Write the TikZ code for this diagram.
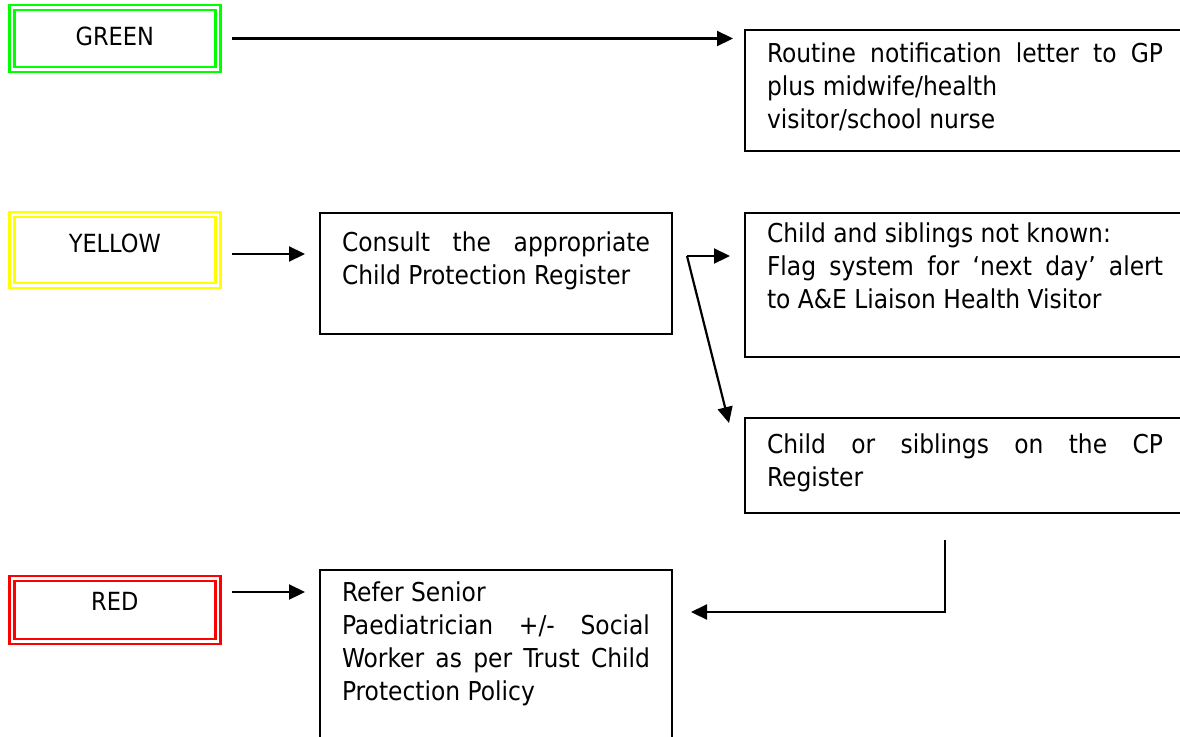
\documentclass[tikz,border=0pt]{standalone}
\usepackage{fontspec}
\setmainfont{DejaVu Sans Condensed}
\usetikzlibrary{arrows.meta}
\definecolor{flaggreen}{RGB}{0,255,0}
\definecolor{flagyellow}{RGB}{255,255,0}
\definecolor{flagred}{RGB}{255,0,0}
\begin{document}
\begin{tikzpicture}[x=1pt,y=-1pt,
  flag/.style={double=white, double distance=2.2pt, line width=2.6pt, inner sep=0pt, outer sep=0pt,
    minimum width=206pt, text depth=0pt, font=\fontsize{25}{30}\selectfont},
  infobox/.style={draw=black, line width=2.2pt, anchor=north west, inner xsep=22pt, inner ysep=0pt,
    outer sep=0pt, align=justify, font=\fontsize{26}{33}\selectfont},
  arr/.style={-{Triangle[length=16pt,width=15pt]}, line width=2.2pt},
]
\useasboundingbox (0,0) rectangle (1180,736);
\clip (0,0) rectangle (1180,736);

% colour flags
\node[flag, draw=flaggreen, minimum height=62pt, text height=14pt] (green) at (114.8,38.5) {GREEN};
\node[flag, draw=flagyellow, minimum height=71pt, text height=4pt] (yellow) at (114.8,250) {YELLOW};
\node[flag, draw=flagred, minimum height=63pt, text height=0pt] (red) at (114.8,610) {RED};

% boxes
\node[infobox, text width=396pt, text height=32pt, text depth=89pt] (routine) at (745,30)
  {Routine notification letter to GP\linebreak plus midwife/health\newline visitor/school nurse};
\node[infobox, text width=308pt, text height=38pt, text depth=83pt] (consult) at (320,213)
  {Consult the appropriate\linebreak Child Protection Register};
\node[infobox, text width=396pt, text height=29pt, text depth=115pt] (child) at (745,213)
  {Child and siblings not known:\newline Flag system for ‘next day’ alert\linebreak to A\&E Liaison Health Visitor};
\node[infobox, text width=396pt, text height=35pt, text depth=60pt] (cp) at (745,418)
  {Child or siblings on the CP\linebreak Register};
\node[infobox, text width=308pt, text height=31pt, text depth=180pt] (refer) at (320,570)
  {Refer Senior\newline Paediatrician +/- Social\linebreak Worker as per Trust Child\linebreak Protection Policy};

% connectors
\draw[arr, shorten <=14pt, shorten >=12pt] (green.east) -- (green.east -| routine.west);
\draw[arr, shorten <=14pt, shorten >=15pt] ([yshift=-4pt]yellow.east) -- ([yshift=-4pt]yellow.east -| consult.west);
\draw[arr, shorten <=14pt, shorten >=15pt] ([yshift=18pt]red.east) -- ([yshift=18pt]red.east -| refer.west);

\coordinate (split) at (687,256);
\coordinate (cpin) at ([xshift=-16pt,yshift=-5pt]cp.north west);
\draw[arr, shorten >=15pt] (split) -- (split -| child.west);
\draw[arr] (split) -- (cpin);

\coordinate (drop) at (945,540);
\coordinate (turn) at (945,612);
\draw[arr, shorten >=19pt] (drop) -- (turn) -- (turn -| refer.east);
\end{tikzpicture}
\end{document}
